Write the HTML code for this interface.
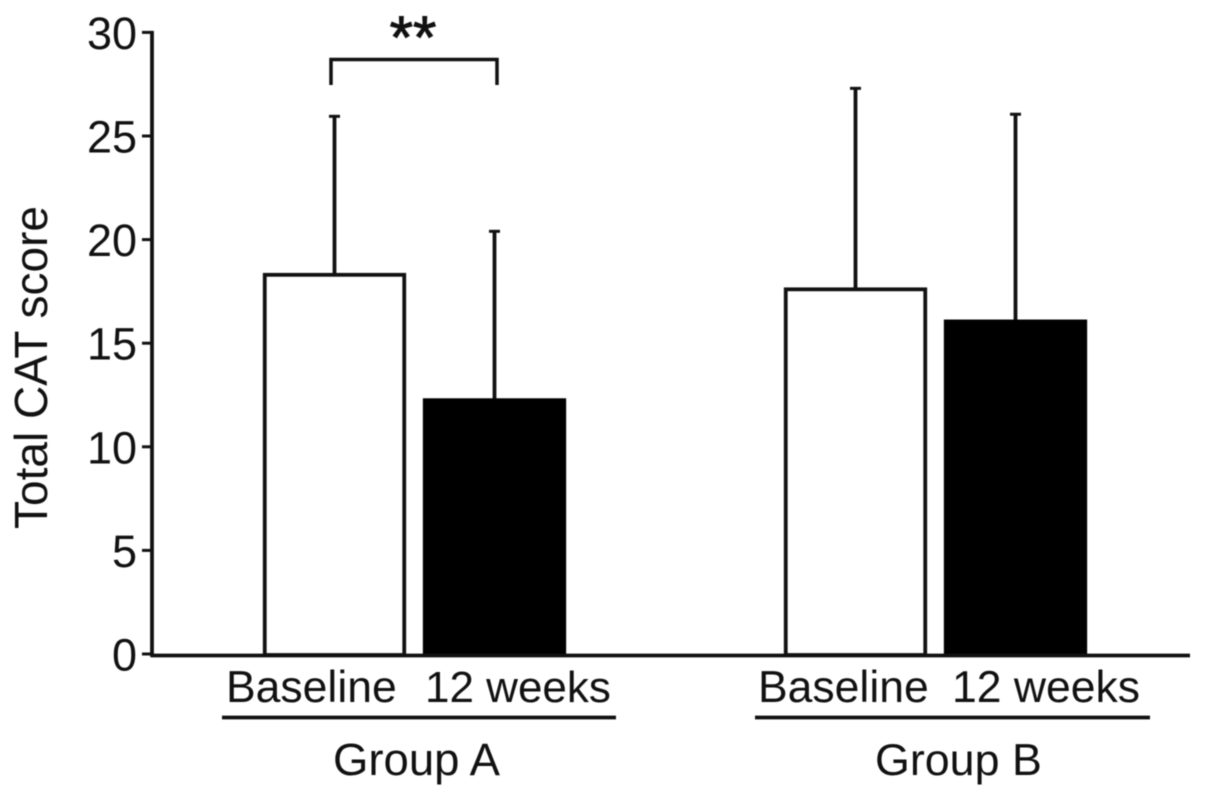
<!DOCTYPE html>
<html lang="en">
<head>
<meta charset="utf-8">
<title>Total CAT score</title>
<style>
html,body{margin:0;padding:0;background:#fff;width:1205px;height:796px;overflow:hidden}
svg{display:block;filter:blur(0.45px)}
text{font-family:"Liberation Sans",sans-serif;font-size:44.5px;fill:#111}
</style>
</head>
<body>
<svg id="chart" width="1205" height="796" viewBox="0 0 1205 796" xmlns="http://www.w3.org/2000/svg">
  <text transform="translate(47,529) rotate(-90)" style="font-size:46px">Total CAT score</text>
  <g id="marks"></g>
  <g id="axes"></g>
  <g id="labels"></g>
  <g>
    <path d="M331 85V59.500H497V85" fill="none" stroke="#111" stroke-width="3.500"></path>
    <text x="413" y="58" text-anchor="middle" style="font-size:60px;stroke:#111;stroke-width:1px">**</text>
  </g>
</svg>
<script>
const groups = ['Group A', 'Group B'];
const conditions = ['Baseline', '12 weeks'];
const means = [[18.3, 12.25], [17.6, 16.05]];
const errorTops = [[25.95, 20.4], [27.3, 26.05]];
const yTicks = [0, 5, 10, 15, 20, 25, 30];

const NS = 'http://www.w3.org/2000/svg';
const y0 = 654, yUnit = 20.72;
const groupX = [334.5, 855.5], barStep = 160, barW = 139.5;
const ink = '#111';
const sw = 3.8;
function yScale(v) { return y0 - v * yUnit; }
function xScale(g, c) { return groupX[g] + c * barStep; }
function make(tag, parent, attrs) {
  const el = document.createElementNS(NS, tag);
  for (const k in attrs) el.setAttribute(k, attrs[k]);
  parent.appendChild(el);
  return el;
}
const marks = document.getElementById('marks');
const axes = document.getElementById('axes');
const labels = document.getElementById('labels');

groups.forEach(function (group, g) {
  conditions.forEach(function (cond, c) {
    const x = xScale(g, c);
    const top = yScale(means[g][c]);
    const errTop = yScale(errorTops[g][c]);
    const err = make('line', marks, {x1: x, x2: x, y1: top, y2: errTop, stroke: ink, 'stroke-width': sw});
    
    
    const cap = make('line', marks, {x1: x - 5.5, x2: x + 5.5, y1: errTop, y2: errTop, stroke: ink, 'stroke-width': 3});
    
    
    const bar = make('rect', marks, {x: x - barW / 2, y: top, width: barW, height: y0 + 1 - top, fill: c === 0 ? '#fff' : '#000', stroke: c === 0 ? ink : '#000', 'stroke-width': sw});
    
    
  });
});

const yAxis = make('line', axes, {x1: 152, x2: 152, y1: yScale(30) - 1.5, y2: y0 + 3, stroke: ink, 'stroke-width': sw});


const xAxis = make('line', axes, {x1: 151, x2: 1190, y1: y0 + 1.5, y2: y0 + 1.5, stroke: ink, 'stroke-width': sw});



yTicks.forEach(function (t) {
  const y = yScale(t);
  const tick = make('line', axes, {x1: 142, x2: 152, y1: y, y2: y, stroke: ink, 'stroke-width': 3});
  
  
  const label = make('text', axes, {x: 137, y: y + 16.5, 'text-anchor': 'end'});
  
  
  label.style.fontSize = '45px';
  label.textContent = t;
});

const condLabelX = [[226, 425], [758, 952]];
const condLabelSize = [[44.5, 44], [44.5, 44.5]];
const groupLabelX = [333, 875];
const groupLabelSize = [45.5, 44.8];
const ruleX = [[222, 616], [755, 1150]];
groups.forEach(function (group, g) {
  conditions.forEach(function (cond, c) {
    const t = make('text', labels, {x: condLabelX[g][c], y: 702});
    
    
    t.style.fontSize = condLabelSize[g][c] + 'px';
    t.textContent = cond;
  });
  const rule = make('line', labels, {x1: ruleX[g][0], x2: ruleX[g][1], y1: 717.5, y2: 717.5, stroke: ink, 'stroke-width': sw});
  
  
  const gt = make('text', labels, {x: groupLabelX[g], y: 775});
  
  
  gt.style.fontSize = groupLabelSize[g] + 'px';
  gt.textContent = group;
});
</script>
</body>
</html>
